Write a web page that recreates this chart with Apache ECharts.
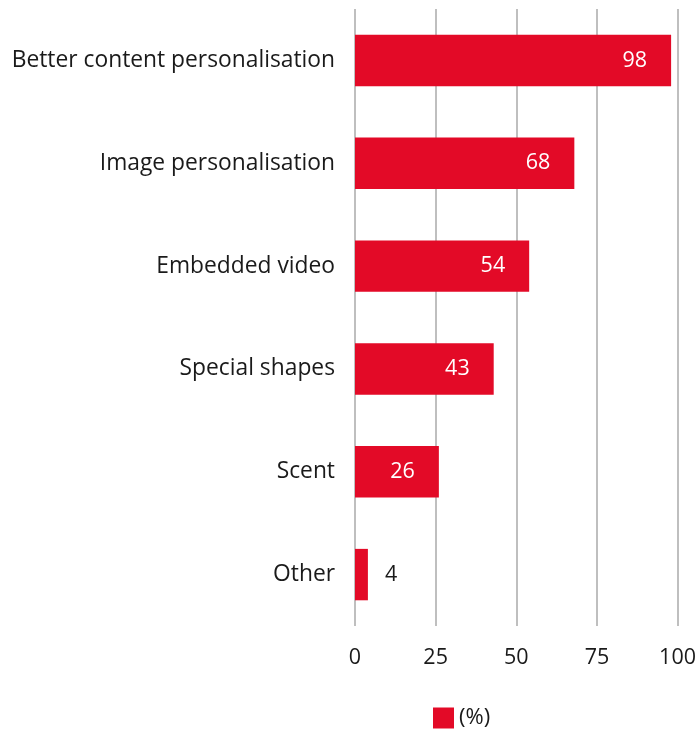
<!DOCTYPE html>
<html>
<head>
<meta charset="utf-8">
<script src="https://cdn.jsdelivr.net/npm/echarts@6/dist/echarts.min.js"></script>
<style>
html, body { margin: 0; padding: 0; background: #fff; }
#chart { width: 699px; height: 731px; }
</style>
</head>
<body>
<div id="chart"></div>
<script>
// Features wanted in personalised print, share of respondents
const categories = [
  'Better content personalisation',
  'Image personalisation',
  'Embedded video',
  'Special shapes',
  'Scent',
  'Other'
];
const values = [98, 68, 54, 43, 26, 4];
const seriesName = '(%)';
const tickValues = [0, 25, 50, 75, 100];

const FONT = '"Open Sans", "Noto Sans", sans-serif';
const RED = '#E30A27';
const INK = '#1a1a1a';

const chart = echarts.init(document.getElementById('chart'), null, { renderer: 'canvas' });

// Small values get their label outside the bar, the rest inside at the end
const barData = values.map(v => ({
  value: v,
  label: v < 10
    ? { position: 'right', distance: 17, color: INK }
    : { position: 'insideRight', distance: 24, color: '#ffffff' }
}));

chart.setOption({
  animation: false,
  textStyle: { fontFamily: FONT },
  grid: { left: 355, right: 21, top: 9, bottom: 105, containLabel: false },
  legend: {
    top: 707,
    left: 433,
    padding: 0,
    itemWidth: 21,
    itemHeight: 21,
    itemGap: 6,
    data: [{ name: seriesName, icon: 'rect' }],
    textStyle: { fontFamily: FONT, fontSize: 22, color: INK }
  },
  xAxis: {
    type: 'value',
    min: tickValues[0],
    max: tickValues[tickValues.length - 1],
    interval: 25,
    axisLine: { show: false },
    axisTick: { show: false },
    splitLine: { show: true, lineStyle: { color: '#bfbfbf', width: 2 } },
    axisLabel: {
      margin: 21,
      fontFamily: FONT,
      fontSize: 21.5,
      color: INK,
      customValues: tickValues
    }
  },
  yAxis: {
    type: 'category',
    inverse: true,
    data: categories,
    axisLine: { show: false },
    axisTick: { show: false },
    axisLabel: {
      margin: 20,
      fontFamily: FONT,
      fontSize: 22.8,
      color: INK
    }
  },
  series: [{
    name: seriesName,
    type: 'bar',
    barWidth: '50%',
    itemStyle: { color: RED },
    label: { show: true, fontFamily: FONT, fontSize: 21.5 },
    data: barData
  }]
});
</script>
</body>
</html>
